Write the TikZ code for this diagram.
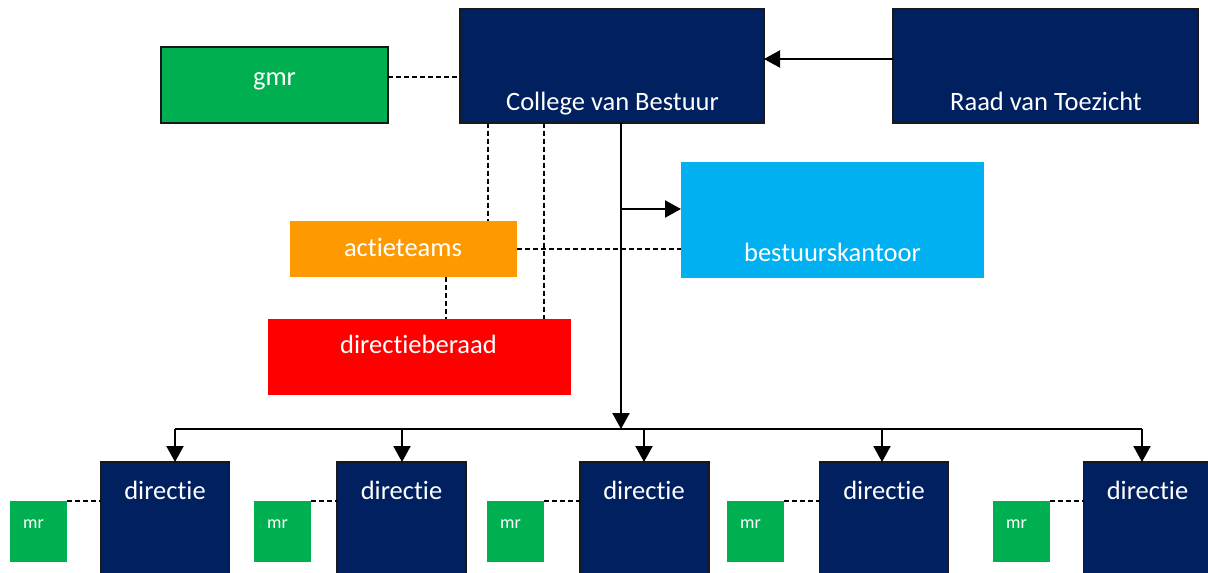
\documentclass[tikz,border=0pt]{standalone}
\usepackage{fontspec}
\setmainfont[Ligatures=NoCommon]{Carlito}
\usetikzlibrary{arrows.meta}
\definecolor{navy}{HTML}{002060}
\definecolor{gmrgreen}{HTML}{00B050}
\definecolor{orangebox}{HTML}{FF9900}
\definecolor{redbox}{HTML}{FF0000}
\definecolor{bluebox}{HTML}{00B0F0}
\begin{document}
\begin{tikzpicture}[x=1pt,y=-1pt,
  box/.style={rectangle, inner sep=0pt, outer sep=0pt},
  bordered/.style={box, draw=black!90, line width=1.2pt},
  lbl/.style={text=white, font=\fontsize{26.5}{30}\selectfont, anchor=base, inner sep=0pt},
  smalllbl/.style={text=white, font=\fontsize{18}{20}\selectfont, anchor=base west, inner sep=0pt},
  conn/.style={line width=2.2pt, draw=black},
  arr/.style={conn, -{Triangle[length=16pt,width=17pt]}},
  dsh/.style={line width=2pt, dash pattern=on 5pt off 3pt},
  dirbox/.style={bordered, fill=navy, minimum width=129pt, minimum height=128pt},
  mrbox/.style={box, fill=gmrgreen, minimum width=57pt, minimum height=61pt}
]
\clip (0,0) rectangle (1208,573);
\fill[white] (0,0) rectangle (1208,573);

% boxes
\node[bordered, fill=gmrgreen, minimum width=227pt, minimum height=76pt] (gmr) at (274.5,85) {};
\node[bordered, fill=navy, minimum width=304pt, minimum height=114pt] (cvb) at (612,66) {};
\node[bordered, fill=navy, minimum width=305pt, minimum height=114pt] (rvt) at (1045.5,66) {};
\node[box, fill=orangebox, minimum width=227pt, minimum height=56pt] (akt) at (403.5,249) {};
\node[box, fill=redbox, minimum width=303pt, minimum height=76pt] (dirb) at (419.5,357) {};
\node[box, fill=bluebox, minimum width=303pt, minimum height=116pt] (bk) at (832.5,220) {};

\node[dirbox] (d1) at (165,526) {};
\node[dirbox] (d2) at (401.5,526) {};
\node[dirbox] (d3) at (644.5,526) {};
\node[dirbox] (d4) at (884,526) {};
\node[dirbox] (d5) at (1148,526) {};

\node[mrbox] (m1) at (38.5,531.5) {};
\node[mrbox] (m2) at (282.5,531.5) {};
\node[mrbox] (m3) at (515.5,531.5) {};
\node[mrbox] (m4) at (755.5,531.5) {};
\node[mrbox] (m5) at (1021.5,531.5) {};

% labels
\node[lbl] (gmr-t) at (274.5,85) {gmr};
\node[lbl] (cvb-t) at (612.5,110) {College van Bestuur};
\node[lbl] (rvt-t) at (1046,110) {Raad van Toezicht};
\node[lbl] (akt-t) at (403,256) {actieteams};
\node[lbl] (dirb-t) at (418.5,353) {directieberaad};
\node[lbl] (bk-t) at (832.5,261) {bestuurskantoor};
\node[lbl] (d1-t) at (165,499) {directie};
\node[lbl] (d2-t) at (401.5,499) {directie};
\node[lbl] (d3-t) at (644,499) {directie};
\node[lbl] (d4-t) at (884,499) {directie};
\node[lbl] (d5-t) at (1147.5,499) {directie};
\foreach \i in {1,...,5}{
  \node[smalllbl] (m\i-t) at ([xshift=13pt]m\i.west |- 0,528) {mr};
}

% coordinates
\coordinate (c1) at ([xshift=-124pt]cvb.south);
\coordinate (c2) at ([xshift=-68pt]cvb.south);
\coordinate (c3) at ([xshift=9pt]cvb.south);
\coordinate (c4) at ([xshift=42.5pt]akt.south);
\coordinate (bkin) at ([yshift=11pt]bk.west);
\coordinate (b1) at (175,429);
\coordinate (b2) at (402,429);
\coordinate (b3) at (644,429);
\coordinate (b4) at (882,429);
\coordinate (b5) at (1142,429);

% connectors
\draw[arr] ([yshift=7pt]rvt.west) -- ([yshift=7pt]rvt.west -| cvb.east);
\draw[dsh] ([yshift=8pt]gmr.east) -- ([yshift=8pt]gmr.east -| cvb.west);
\draw[dsh] (c1) -- (c1 |- akt.north);
\draw[dsh] (c2) -- (c2 |- dirb.north);
\draw[dsh] (c4) -- (c4 |- dirb.north);
\draw[dsh] (akt.east) -- (akt.east -| bk.west);
\draw[arr] (c3) -- (c3 |- b1);
\draw[arr] (c3 |- bkin) -- (bkin);
\draw[conn] (b1) -- (b5);
\foreach \i in {1,...,5}{
  \draw[arr] (b\i) -- (b\i |- d\i.north);
  \draw[dsh] (m\i.north east) -- (m\i.north east -| d\i.west);
}
\end{tikzpicture}
\end{document}
